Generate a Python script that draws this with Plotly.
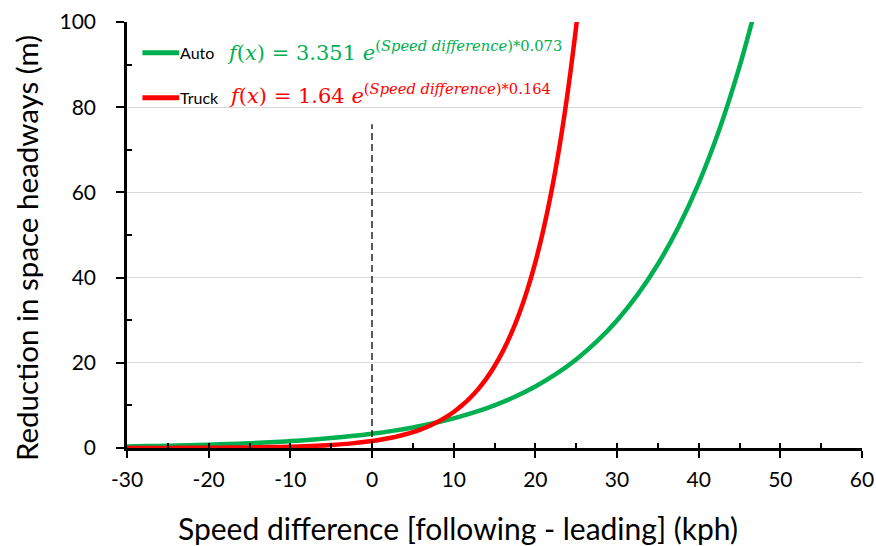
import plotly.graph_objects as go

# Data
auto_x = [-30, -27.5, -25, -22.5, -20, -17.5, -15, -12.5, -10, -7.5, -5, -2.5, 0,
          2.5, 5, 7.5, 10, 12.5, 15, 17.5, 20, 22.5, 25, 27.5, 30, 32.5, 35,
          37.5, 40, 42.5, 45, 46.5, 47]
auto_y = [0.375, 0.450, 0.540, 0.648, 0.778, 0.934, 1.121, 1.346, 1.615, 1.938,
          2.326, 2.792, 3.351, 4.022, 4.827, 5.794, 6.954, 8.346, 10.02, 12.02,
          14.43, 17.32, 20.79, 24.95, 29.94, 35.94, 43.13, 51.77, 62.13, 74.57,
          89.50, 99.86, 103.6]

truck_x = [-30, -25, -22.5, -20, -17.5, -15, -12.5, -10, -7.5, -5, -2.5, 0,
           1, 2, 3, 4, 5, 6, 7, 8, 9, 10, 11, 12, 13, 14, 15, 16, 17, 18, 19,
           20, 21, 22, 23, 24, 25, 25.5]
truck_y = [0.012, 0.027, 0.041, 0.062, 0.093, 0.140, 0.211, 0.318, 0.479, 0.722,
           1.088, 1.64, 1.932, 2.277, 2.682, 3.160, 3.724, 4.387, 5.169, 6.090,
           7.176, 8.455, 9.961, 11.74, 13.83, 16.29, 19.20, 22.62, 26.65, 31.40,
           36.99, 43.59, 51.35, 60.50, 71.29, 83.99, 98.96, 107.4]

series_names = ["Auto", "Truck"]
series_colors = ["#00B050", "#FF0000"]
equations = [
    "<i>f</i>(<i>x</i>) = 3.351 <i>e</i><sup>(<i>Speed difference</i>)*0.073</sup>",
    "<i>f</i>(<i>x</i>) = 1.64 <i>e</i><sup>(<i>Speed difference</i>)*0.164</sup>",
]
x_tickvals = [-30, -20, -10, 0, 10, 20, 30, 40, 50, 60]
x_ticktext = ["-30", "-20", "-10", "0", "10", "20", "30", "40", "50", "60"]
y_tickvals = [0, 20, 40, 60, 80, 100]
y_ticktext = ["0", "20", "40", "60", "80", "100"]
ref_x = 0
ref_top = 76

x_title = "Speed difference [following - leading] (kph)"
y_title = "Reduction in space headways (m)"

FONT = "Lato"

fig = go.Figure()
fig.add_trace(go.Scatter(x=auto_x, y=auto_y, mode="lines", name=series_names[0],
                         line=dict(color=series_colors[0], width=4.5, shape="spline"),
                         showlegend=False))
fig.add_trace(go.Scatter(x=truck_x, y=truck_y, mode="lines", name=series_names[1],
                         line=dict(color=series_colors[1], width=4.5, shape="spline"),
                         showlegend=False))

# reference dashed line at zero
fig.add_shape(type="line", x0=ref_x, x1=ref_x, y0=0, y1=ref_top, xref="x", yref="y",
              line=dict(color="black", width=1.3, dash="7px,4px"))

# custom legend
leg_y = [0.928, 0.822]
eq_x = [0.133, 0.136]
eq_dy = [0.005, 0.010]
for i in range(2):
    fig.add_shape(type="line", xref="paper", yref="paper",
                  x0=0.021, x1=0.071, y0=leg_y[i], y1=leg_y[i],
                  line=dict(color=series_colors[i], width=5))
    fig.add_annotation(xref="paper", yref="paper", x=0.070, y=leg_y[i],
                       text=series_names[i], showarrow=False, xanchor="left",
                       yanchor="middle", font=dict(family=FONT, size=16, color="black"))
    fig.add_annotation(xref="paper", yref="paper", x=eq_x[i],
                       y=leg_y[i] + eq_dy[i],
                       text=equations[i], showarrow=False, xanchor="left",
                       yanchor="middle",
                       font=dict(family="DejaVu Serif", size=21, color=series_colors[i]))

# axis titles
fig.add_annotation(xref="paper", yref="paper", x=0.450, y=-0.188, text=x_title,
                   showarrow=False, xanchor="center", yanchor="middle",
                   font=dict(family=FONT, size=30, color="black"))
fig.add_annotation(xref="paper", yref="paper", x=-0.137, y=0.470, text=y_title,
                   showarrow=False, xanchor="center", yanchor="middle", textangle=-90,
                   font=dict(family=FONT, size=29.5, color="black"))

fig.update_layout(
    width=876, height=546,
    margin=dict(l=127, r=14, t=22, b=98, autoexpand=False),
    paper_bgcolor="white", plot_bgcolor="white",
    font=dict(family=FONT, size=21, color="black"),
    xaxis=dict(range=[-30, 60], tickmode="array", tickvals=x_tickvals, ticktext=x_ticktext,
               ticks="outside", ticklen=7, tickwidth=2, tickcolor="black",
               ticklabelstandoff=4, ticklabeloverflow="allow", automargin=False,
               showline=True, linecolor="black", linewidth=2.5,
               showgrid=False, zeroline=False,
               minor=dict(tickvals=list(range(-25, 60, 10)), ticks="inside",
                          ticklen=5, tickwidth=2, tickcolor="black"),
               tickfont=dict(family=FONT, size=21)),
    xaxis2=dict(range=[-30, 60], overlaying="x", tickmode="array",
                tickvals=x_tickvals, ticks="inside", ticklen=5,
                tickwidth=2, tickcolor="black", showticklabels=False, showgrid=False,
                zeroline=False, showline=False, side="bottom", anchor="y",
                automargin=False),
    yaxis=dict(range=[0, 100], tickmode="array", tickvals=y_tickvals, ticktext=y_ticktext,
               ticks="outside", ticklen=8, tickwidth=2, tickcolor="black",
               ticklabelstandoff=16, ticklabeloverflow="allow", automargin=False,
               showline=True, linecolor="black", linewidth=2.5,
               showgrid=True, gridcolor="#d9d9d9", gridwidth=1, zeroline=False,
               minor=dict(tickvals=list(range(10, 100, 20)), ticks="inside",
                          ticklen=5, tickwidth=2, tickcolor="black", showgrid=False),
               tickfont=dict(family=FONT, size=21)),
)
# dummy trace to activate xaxis2
fig.add_trace(go.Scatter(x=[None], y=[None], xaxis="x2", yaxis="y", showlegend=False,
                         hoverinfo="skip"))

fig.write_html("out.html", config={"displayModeBar": False},
               post_script="document.body.style.margin='0px';document.body.style.overflow='hidden';")
